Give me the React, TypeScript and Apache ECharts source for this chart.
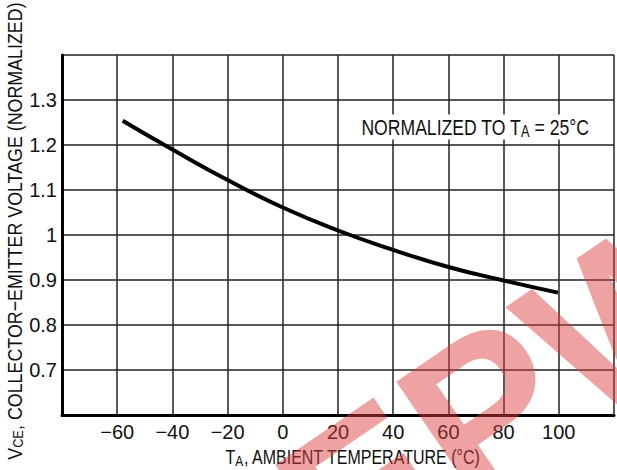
import React, { useEffect, useRef } from "react";
import * as echarts from "echarts";

const temps = [-58, -40, -20, 0, 20, 40, 60, 80, 99.7];
const vceNorm = [1.254, 1.19, 1.122, 1.061, 1.01, 0.967, 0.929, 0.899, 0.872];
const xTickLabels = ["−60", "−40", "−20", "0", "20", "40", "60", "80", "100"];
const yTickLabels = ["0.7", "0.8", "0.9", "1", "1.1", "1.2", "1.3"];

const FONT = "'Liberation Sans', Arial, sans-serif";

export default function App() {
  const ref = useRef<HTMLDivElement>(null);
  useEffect(() => {
    document.body.style.margin = "0";
    const chart = echarts.init(ref.current!, null, { renderer: "svg" });
    const xLabel = (v: number) => {
      const i = Math.round((v + 60) / 20);
      return i >= 0 && i < xTickLabels.length && Math.abs(v - (-60 + i * 20)) < 1e-6 ? xTickLabels[i] : "";
    };
    const yLabel = (v: number) => {
      const i = Math.round((v - 0.7) / 0.1);
      return i >= 0 && i < yTickLabels.length && Math.abs(v - (0.7 + i * 0.1)) < 1e-6 ? yTickLabels[i] : "";
    };
    const rich = (m: number, s: number, dy: number) => ({
      m: { fontSize: m, fontFamily: FONT, fill: "#111" },
      s: { fontSize: s, fontFamily: FONT, fill: "#111", padding: [dy, 0, 0, 0] },
    });
    chart.setOption({
      animation: false,
      grid: { left: 62, top: 55, right: 0, bottom: 55, containLabel: false },
      xAxis: {
        type: "value",
        min: -80,
        max: 120,
        interval: 20,
        axisLine: { show: true, onZero: false, lineStyle: { color: "#000", width: 3 } },
        axisTick: { show: false },
        axisLabel: { formatter: xLabel, color: "#111", fontSize: 20, fontFamily: FONT, margin: 7 },
        splitLine: { show: true, lineStyle: { color: "#222", width: 1.5 } },
      },
      yAxis: {
        type: "value",
        min: 0.6,
        max: 1.4,
        interval: 0.1,
        axisLine: { show: true, onZero: false, lineStyle: { color: "#000", width: 3 } },
        axisTick: { show: false },
        axisLabel: { formatter: yLabel, color: "#111", fontSize: 20, fontFamily: FONT, margin: 5 },
        splitLine: { show: true, lineStyle: { color: "#222", width: 1.5 } },
      },
      series: [
        {
          type: "line",
          data: temps.map((t, i) => [t, vceNorm[i]]),
          smooth: 0.5,
          symbol: "none",
          lineStyle: { color: "#000", width: 4 },
          z: 3,
        },
      ],
      graphic: [
        {
          type: "text",
          x: 14,
          y: 231,
          rotation: Math.PI / 2,
          scaleX: 0.85,
          style: {
            text: "{m|V}{s|CE}{m|, COLLECTOR−EMITTER VOLTAGE (NORMALIZED)}",
            align: "center",
            verticalAlign: "middle",
            rich: rich(21, 15, 8),
          },
        },
        {
          type: "text",
          x: 353,
          y: 457,
          scaleX: 0.8,
          style: {
            text: "{m|T}{s|A}{m|, AMBIENT TEMPERATURE (°C)}",
            align: "center",
            verticalAlign: "middle",
            rich: rich(20, 15, 8),
          },
        },
        {
          type: "text",
          x: 475,
          y: 127,
          scaleX: 0.8,
          style: {
            text: "{m|NORMALIZED TO T}{s|A}{m| = 25°C}",
            align: "center",
            verticalAlign: "middle",
            backgroundColor: "#fff",
            rich: rich(22, 16, 9),
          },
          z: 10,
        },
        {
          type: "text",
          x: 368,
          y: 626,
          rotation: 0.6,
          style: {
            text: "EPW",
            fontSize: 220,
            fontWeight: "bold",
            fontFamily: "'Liberation Sans', Arial, sans-serif",
            fill: "rgba(220, 60, 60, 0.48)",
            align: "left",
            verticalAlign: "bottom",
          },
          z: 100,
        },
      ],
    });
    return () => chart.dispose();
  }, []);
  return <div ref={ref} style={{ width: 617, height: 470, position: "absolute", left: 0, top: 0 }} />;
}
